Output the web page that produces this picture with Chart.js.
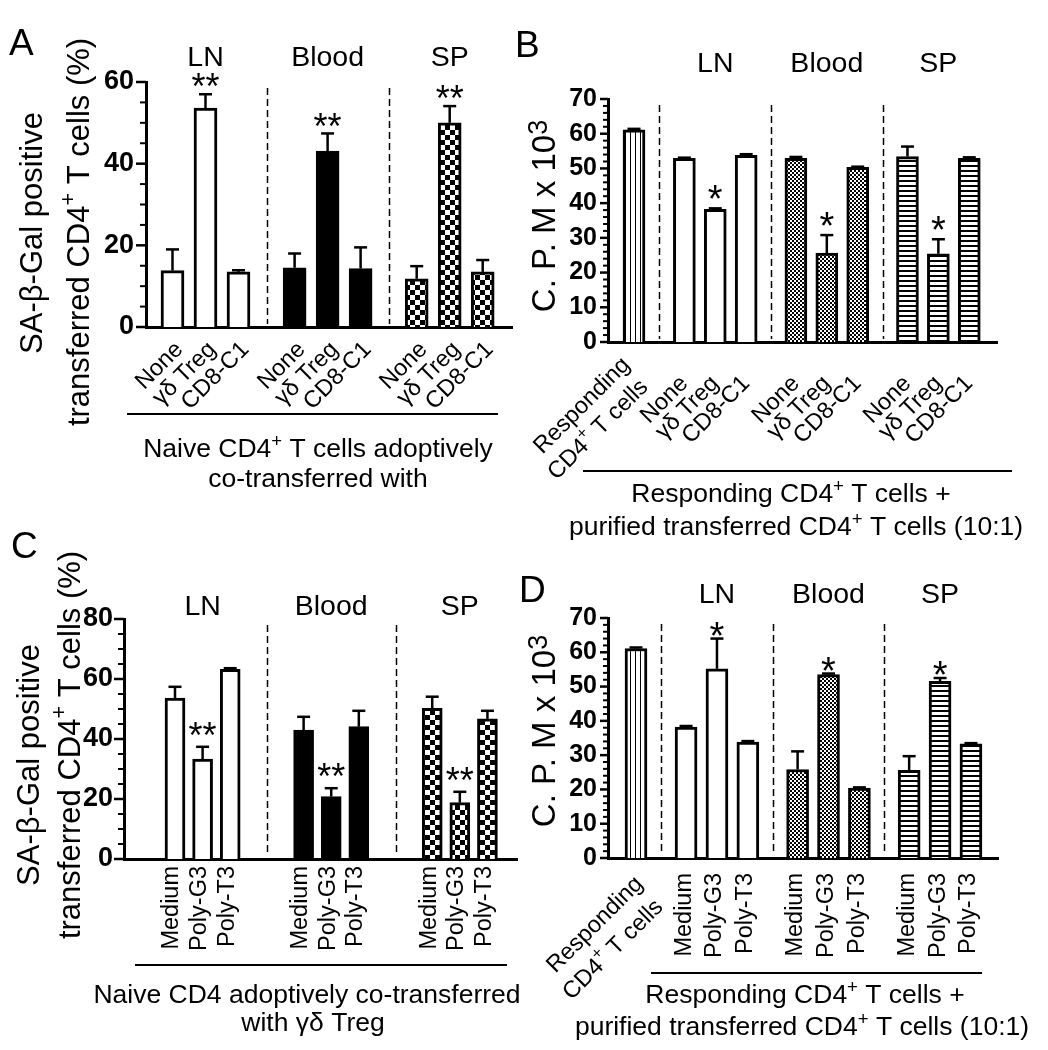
<!DOCTYPE html>
<html><head><meta charset="utf-8">
<script src="https://cdn.jsdelivr.net/npm/chart.js@4.4.1/dist/chart.umd.min.js"></script>
<style>
html,body{margin:0;padding:0;background:#fff;}
#wrap{position:relative;width:1048px;height:1050px;overflow:hidden;background:#fff;}
canvas{position:absolute;left:0;top:0;}
</style></head><body>
<div id="wrap">
<canvas id="cA" width="1048" height="1050"></canvas>
<canvas id="cB" width="1048" height="1050"></canvas>
<canvas id="cC" width="1048" height="1050"></canvas>
<canvas id="cD" width="1048" height="1050"></canvas>
</div>
<script>
// ---------------- DATA ----------------
const groupNames = ['LN', 'Blood', 'SP'];

// Panel A
const aCats = ['None', 'γδ Treg', 'CD8-C1'];
const aMeans = [13.8, 53.6, 13.5, 14.5, 43.1, 14.3, 11.8, 50.0, 13.5];
const aErrs  = [5.2, 3.4, 0.4, 3.5, 4.3, 5.2, 3.1, 4.1, 2.9];
const aStars = ['', '**', '', '', '**', '', '', '**', ''];
const aYTicks = [0, 20, 40, 60];

// Panel B
const bRespMean = 61.1, bRespErr = 0.3;
const bCats = ['None', 'γδ Treg', 'CD8-C1'];
const bMeans = [52.9, 38.2, 53.8, 52.9, 25.6, 50.3, 53.4, 25.4, 52.9];
const bErrs  = [0.2, 0.3, 0.3, 0.4, 5.2, 0.2, 2.9, 4.2, 0.3];
const bStars = ['', '*', '', '', '*', '', '', '*', ''];
const bYTicks = [0, 10, 20, 30, 40, 50, 60, 70];

// Panel C
const cCats = ['Medium', 'Poly-G3', 'Poly-T3'];
const cMeans = [53.6, 33.3, 63.2, 43.0, 20.8, 44.1, 50.2, 18.8, 46.7];
const cErrs  = [3.8, 4.1, 0.4, 4.4, 2.8, 5.3, 3.9, 3.6, 2.7];
const cStars = ['', '**', '', '', '**', '', '', '**', ''];
const cYTicks = [0, 20, 40, 60, 80];

// Panel D
const dRespMean = 61.1, dRespErr = 0.3;
const dCats = ['Medium', 'Poly-G3', 'Poly-T3'];
const dMeans = [38.2, 55.2, 33.8, 25.8, 53.5, 20.4, 25.6, 51.5, 33.3];
const dErrs  = [0.3, 8.8, 0.3, 5.3, 0.3, 0.2, 4.1, 1.0, 0.2];
const dStars = ['', '*', '', '', '*', '', '', '*', ''];
const dYTicks = [0, 10, 20, 30, 40, 50, 60, 70];

// Text
const respLabel = [[['Responding', 0]], [['CD4', 0], ['+', 1], [' T cells', 0]]];
const pctTitle = [[['SA-β-Gal positive', 0]], [['transferred CD4', 0], ['+', 1], [' T cells (%)', 0]]];
const cpmTitle = [[['C. P. M x 10', 0], ['3', 2]]];
const capA = [[['Naive CD4', 0], ['+', 1], [' T cells adoptively', 0]], [['co-transferred with', 0]]];
const capB = [[['Responding CD4', 0], ['+', 1], [' T cells +', 0]], [['purified transferred CD4', 0], ['+', 1], [' T cells (10:1)', 0]]];
const capC = [[['Naive CD4 adoptively co-transferred', 0]], [['with γδ Treg', 0]]];
const capD = capB;

// ---------------- STYLE / HELPERS ----------------
const FONT = "'Liberation Sans', Arial, Helvetica, sans-serif";
const W = 1048, H = 1050, XH = 100;

function mkPattern(w, h, draw) {
  const c = document.createElement('canvas');
  c.width = w; c.height = h;
  const g = c.getContext('2d');
  g.fillStyle = '#fff'; g.fillRect(0, 0, w, h);
  g.fillStyle = '#000'; draw(g);
  return g.createPattern(c, 'repeat');
}
const PAT = {
  white: '#ffffff',
  black: '#000000',
  checker: mkPattern(10, 10, g => { g.fillRect(0, 0, 5, 5); g.fillRect(5, 5, 5, 5); }),
  fine: mkPattern(4, 4, g => { g.fillRect(0, 0, 2, 2); g.fillRect(2, 2, 2, 2); }),
  hstripe: mkPattern(5, 5, g => { g.fillRect(0, 0, 5, 2); }),
  vstripe: mkPattern(5, 5, g => { g.fillRect(0, 0, 1, 5); })
};

function segFont(size, kind, weight) {
  const s = kind === 1 ? size * 0.7 : kind === 2 ? size * 0.82 : size;
  return `${weight || 'normal'} ${s}px ${FONT}`;
}
function segRaise(size, kind) { return kind === 1 ? size * 0.36 : kind === 2 ? size * 0.2 : 0; }
function drawRich(ctx, segs, x, y, size, align, weight) {
  let w = 0;
  for (const [t, k] of segs) { ctx.font = segFont(size, k, weight); w += ctx.measureText(t).width; }
  let cx = align === 'center' ? x - w / 2 : align === 'right' ? x - w : x;
  ctx.textAlign = 'left';
  for (const [t, k] of segs) {
    ctx.font = segFont(size, k, weight);
    ctx.fillText(t, cx, y - segRaise(size, k));
    cx += ctx.measureText(t).width;
  }
}

function buildPanel(P) {
  const pos = [], labels = [], fills = [], groupOf = [];
  let means = [], errs = [], stars = [];
  if (P.resp) {
    pos.push(0); labels.push(''); fills.push(PAT.vstripe); groupOf.push(-1);
    means.push(P.resp.mean); errs.push(P.resp.err); stars.push('');
  }
  const base = P.resp ? P.respGap : 0;
  groupNames.forEach((g, gi) => P.cats.forEach((c, ci) => {
    pos.push(base + gi * P.gap + ci); labels.push(c); fills.push(PAT[P.fills[gi]]); groupOf.push(gi);
  }));
  means = means.concat(P.means); errs = errs.concat(P.errs); stars = stars.concat(P.stars);
  const A = P.area;
  const xMin = -(P.firstPx - A.left) / P.unit;
  const xMax = xMin + (A.right - A.left) / P.unit;

  const decor = {
    id: 'decor' + P.id,
    afterDraw(chart) {
      const ctx = chart.ctx, xs = chart.scales.x, ys = chart.scales.y, ca = chart.chartArea;
      const px = i => xs.getPixelForValue(pos[i]);
      ctx.save();
      ctx.fillStyle = '#000'; ctx.strokeStyle = '#000';
      // y ticks (major + minor)
      for (let v = 0; v <= P.yMax + 1e-9; v += P.yStep) {
        const y = ys.getPixelForValue(v);
        const maj = P.yMajor.includes(v);
        ctx.lineWidth = maj ? 2.5 : 2;
        ctx.beginPath();
        ctx.moveTo(ca.left - (maj ? P.majorLen : P.minorLen), y);
        ctx.lineTo(ca.left, y);
        ctx.stroke();
      }
      // dashed separators
      ctx.setLineDash([7, 4]); ctx.lineWidth = 1.5;
      for (let i = 0; i < pos.length - 1; i++) {
        if (groupOf[i] !== groupOf[i + 1]) {
          const x = Math.round((px(i) + px(i + 1)) / 2) + 0.5;
          ctx.beginPath(); ctx.moveTo(x, ca.top + 6); ctx.lineTo(x, ca.bottom - 3); ctx.stroke();
        }
      }
      ctx.setLineDash([]);
      // error bars + stars
      for (let i = 0; i < pos.length; i++) {
        const x = px(i);
        const yT = ys.getPixelForValue(means[i]);
        const yE = ys.getPixelForValue(means[i] + errs[i]);
        ctx.lineWidth = 2.5;
        ctx.beginPath(); ctx.moveTo(x, yT); ctx.lineTo(x, yE); ctx.stroke();
        ctx.beginPath(); ctx.moveTo(x - 6.5, yE); ctx.lineTo(x + 6.5, yE); ctx.stroke();
        if (stars[i]) {
          ctx.font = `normal ${P.starFont}px ${FONT}`;
          ctx.textAlign = 'center'; ctx.textBaseline = 'alphabetic';
          ctx.fillText(stars[i], x, yE - P.starGap + P.starFont * 0.45);
        }
      }
      // group titles
      ctx.font = `normal ${P.titleFont}px ${FONT}`;
      ctx.textAlign = 'center'; ctx.textBaseline = 'alphabetic';
      groupNames.forEach((g, gi) => {
        const idx = groupOf.map((v, i) => v === gi ? i : -1).filter(i => i >= 0);
        const cx = idx.reduce((s, i) => s + px(i), 0) / idx.length;
        ctx.fillText(g, cx, P.titleY);
      });
      // y title
      ctx.textBaseline = 'middle';
      P.yTitle.lines.forEach((segs, li) => {
        const [cx, cy] = P.yTitle.centers[li];
        ctx.save(); ctx.translate(cx, cy); ctx.rotate(-Math.PI / 2);
        drawRich(ctx, segs, 0, 0, P.yTitle.font, 'center');
        ctx.restore();
      });
      // responding label (rotated 45)
      if (P.resp) {
        P.respLabel.forEach((segs, li) => {
          const [dx, dy] = P.respAnchors[li];
          ctx.save(); ctx.translate(px(0) + dx, ca.bottom + dy); ctx.rotate(-Math.PI / 4);
          ctx.textBaseline = 'middle';
          drawRich(ctx, segs, 0, 0, P.tickFont, 'right');
          ctx.restore();
        });
      }
      // panel letter
      ctx.textBaseline = 'alphabetic';
      ctx.font = `normal 37px ${FONT}`; ctx.textAlign = 'left';
      ctx.fillText(P.letter, P.letterPos[0], P.letterPos[1]);
      // bracket
      ctx.lineWidth = 2;
      ctx.beginPath(); ctx.moveTo(P.bracket.x1, P.bracket.y); ctx.lineTo(P.bracket.x2, P.bracket.y); ctx.stroke();
      // caption
      P.caption.lines.forEach((segs, li) => {
        const [cx, cy] = P.caption.pos[li];
        drawRich(ctx, segs, cx, cy, P.caption.font, 'center');
      });
      ctx.restore();
    }
  };

  new Chart(document.getElementById(P.id), {
    type: 'bar',
    data: {
      datasets: [{
        data: pos.map((p, i) => ({ x: p, y: means[i] })),
        backgroundColor: fills,
        borderColor: '#000',
        borderWidth: 3,
        borderSkipped: 'bottom',
        barThickness: P.barW
      }]
    },
    options: {
      responsive: false,
      animation: false,
      events: [],
      layout: { padding: { left: 0, top: A.top, right: W - A.right, bottom: H - A.bottom - XH } },
      plugins: { legend: { display: false }, tooltip: { enabled: false } },
      scales: {
        x: {
          type: 'linear', min: xMin, max: xMax, offset: false,
          afterBuildTicks: s => { s.ticks = pos.map(v => ({ value: v })); },
          afterFit: s => { s.height = XH; },
          grid: { display: false, drawTicks: false },
          border: { display: true, width: 3, color: '#000' },
          ticks: {
            autoSkip: false, minRotation: P.rot, maxRotation: P.rot,
            padding: P.tickPad, labelOffset: P.labelOffset, color: '#000',
            font: { family: FONT, size: P.tickFont },
            callback: (v, i) => labels[i]
          }
        },
        y: {
          type: 'linear', min: 0, max: P.yMax,
          afterFit: s => { s.width = A.left; },
          grid: { display: false, drawTicks: false },
          border: { display: true, width: 3, color: '#000' },
          ticks: {
            stepSize: P.yStep, autoSkip: false, maxTicksLimit: 200, padding: P.yPad,
            color: '#000', font: { family: FONT, size: P.yFont, weight: 'bold' },
            callback: v => P.yMajor.includes(v) ? String(v) : ''
          }
        }
      }
    },
    plugins: [decor]
  });
}

// ---------------- PANELS ----------------
buildPanel({
  id: 'cA', letter: 'A', letterPos: [9, 55],
  area: { left: 146, top: 82, right: 512, bottom: 327 },
  yMax: 60, yStep: 5, yMajor: aYTicks, yFont: 27, yPad: 12, majorLen: 10, minorLen: 6,
  firstPx: 172.5, unit: 33, gap: 3.7,
  cats: aCats, rot: 45, tickPad: 9, labelOffset: 7, tickFont: 23.5,
  barW: 23, fills: ['white', 'black', 'checker'],
  means: aMeans, errs: aErrs, stars: aStars, starFont: 36, starGap: 11,
  titleY: 66, titleFont: 28.5,
  yTitle: { lines: pctTitle, centers: [[33, 233], [80, 232]], font: 31 },
  bracket: { y: 414, x1: 127, x2: 498 },
  caption: { lines: capA, pos: [[318, 457], [318, 487]], font: 26.5 }
});

buildPanel({
  id: 'cB', letter: 'B', letterPos: [515, 57],
  area: { left: 608, top: 99, right: 997, bottom: 342 },
  yMax: 70, yStep: 2, yMajor: bYTicks, yFont: 25, yPad: 11, majorLen: 8, minorLen: 5,
  firstPx: 634, unit: 30.9, respGap: 1.63, gap: 3.61,
  resp: { mean: bRespMean, err: bRespErr }, respLabel: respLabel, respAnchors: [[-7.5, 19.5], [10.5, 41.5]],
  cats: bCats, rot: 45, tickPad: 28, labelOffset: 0, tickFont: 23.5,
  barW: 22, fills: ['white', 'fine', 'hstripe'],
  means: bMeans, errs: bErrs, stars: bStars, starFont: 38, starGap: 13,
  titleY: 72, titleFont: 28.5,
  yTitle: { lines: cpmTitle, centers: [[546, 216]], font: 33 },
  bracket: { y: 471, x1: 583, x2: 1012 },
  caption: { lines: capB, pos: [[791, 502], [796, 535]], font: 26.5 }
});

buildPanel({
  id: 'cC', letter: 'C', letterPos: [11, 558],
  area: { left: 124, top: 619, right: 517, bottom: 859 },
  yMax: 80, yStep: 5, yMajor: cYTicks, yFont: 27, yPad: 11, majorLen: 10, minorLen: 6,
  firstPx: 175, unit: 27.6, gap: 4.66,
  cats: cCats, rot: 90, tickPad: 7, labelOffset: -3, tickFont: 23.5,
  barW: 20, fills: ['white', 'black', 'checker'],
  means: cMeans, errs: cErrs, stars: cStars, starFont: 36, starGap: 15,
  titleY: 615, titleFont: 28.5,
  yTitle: { lines: pctTitle, centers: [[30, 765], [71, 745]], font: 31 },
  bracket: { y: 965, x1: 135, x2: 507 },
  caption: { lines: capC, pos: [[307, 1003], [313, 1031]], font: 26.5 }
});

buildPanel({
  id: 'cD', letter: 'D', letterPos: [519, 602],
  area: { left: 608, top: 618, right: 998, bottom: 858 },
  yMax: 70, yStep: 2, yMajor: dYTicks, yFont: 25, yPad: 11, majorLen: 8, minorLen: 5,
  firstPx: 636, unit: 30.9, respGap: 1.62, gap: 3.61,
  resp: { mean: dRespMean, err: dRespErr }, respLabel: respLabel, respAnchors: [[3.5, 22.5], [23.5, 45.5]],
  cats: dCats, rot: 90, tickPad: 15, labelOffset: -2, tickFont: 23.5,
  barW: 22, fills: ['white', 'fine', 'hstripe'],
  means: dMeans, errs: dErrs, stars: dStars, starFont: 38, starGap: 7,
  titleY: 603, titleFont: 28.5,
  yTitle: { lines: cpmTitle, centers: [[546, 731]], font: 33 },
  bracket: { y: 973, x1: 651, x2: 982 },
  caption: { lines: capD, pos: [[805, 1003], [802, 1035]], font: 26.5 }
});
</script>
</body></html>
